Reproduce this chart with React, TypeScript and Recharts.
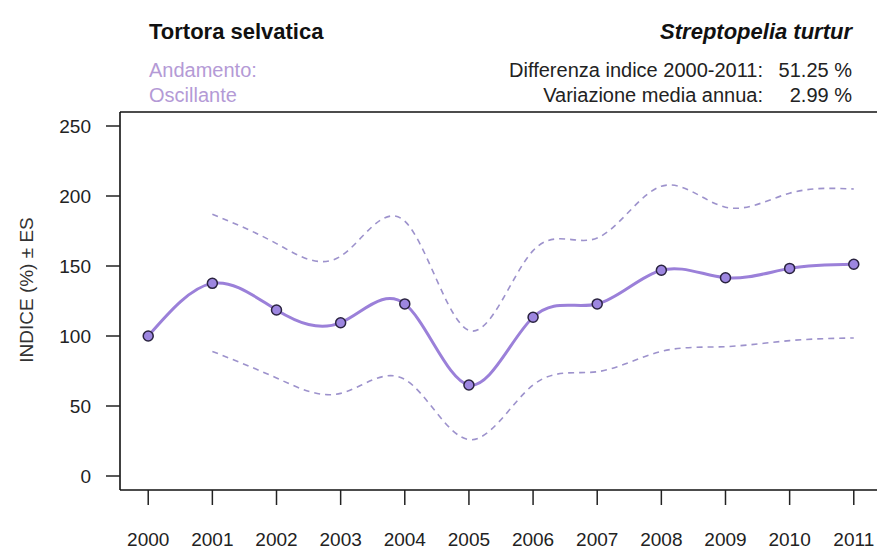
import React from 'react';
import { LineChart, Line, XAxis, YAxis, ReferenceLine } from 'recharts';

const years = [2000, 2001, 2002, 2003, 2004, 2005, 2006, 2007, 2008, 2009, 2010, 2011];
const indexValues = [100, 137.6, 118.6, 109.5, 122.9, 65, 113.4, 122.9, 147, 141.6, 148.3, 151.25];
const upperValues: (number | null)[] = [null, 187, 166, 157, 182, 104, 161, 170, 207, 192, 202, 205];
const lowerValues: (number | null)[] = [null, 89, 70, 59, 69, 26, 65, 74.5, 89, 92.4, 96.7, 98.6];
const yTicks = [0, 50, 100, 150, 200, 250];

const data = years.map((year, i) => ({
  year,
  idx: indexValues[i],
  upper: upperValues[i],
  lower: lowerValues[i],
}));

const FONT = 'Arial, "Liberation Sans", Helvetica, sans-serif';
const LINE_COLOR = '#9b80d9';
const DASH_COLOR = '#9d92cc';
const LABEL_COLOR = '#b49ad6';

export default function App() {
  return (
    <div style={{ position: 'absolute', left: 0, top: 0, width: 877, height: 551, overflow: 'hidden', background: '#fff' }}>
      <LineChart
        width={890}
        height={551}
        data={data}
        margin={{ top: 112, right: 8, bottom: 11, left: 60 }}
      >
        <XAxis
          dataKey="year"
          type="number"
          domain={[1999.56, 2011.44]}
          ticks={years}
          interval={0}
          height={50}
          axisLine={{ stroke: '#111', strokeWidth: 1.6 }}
          tickLine={{ stroke: '#222', strokeWidth: 1.5 }}
          tickSize={15}
          tickMargin={28}
          tick={{ fill: '#222', fontSize: 19, fontFamily: FONT }}
        />
        <YAxis
          type="number"
          domain={[-10, 260]}
          ticks={yTicks}
          interval={0}
          width={60}
          axisLine={{ stroke: '#111', strokeWidth: 1.6 }}
          tickLine={{ stroke: '#222', strokeWidth: 1.5 }}
          tickSize={14}
          tickMargin={15}
          tick={{ fill: '#222', fontSize: 19, fontFamily: FONT }}
        />
        <ReferenceLine y={260} stroke="#111" strokeWidth={1.6} />
        <Line
          dataKey="upper"
          type="natural"
          stroke={DASH_COLOR}
          strokeWidth={1.6}
          strokeDasharray="6 5"
          dot={false}
          activeDot={false}
          isAnimationActive={false}
        />
        <Line
          dataKey="lower"
          type="natural"
          stroke={DASH_COLOR}
          strokeWidth={1.6}
          strokeDasharray="6 5"
          dot={false}
          activeDot={false}
          isAnimationActive={false}
        />
        <Line
          dataKey="idx"
          type="natural"
          stroke={LINE_COLOR}
          strokeWidth={3}
          dot={{ r: 5, fill: '#9d86e0', stroke: '#2a2340', strokeWidth: 1.5 }}
          activeDot={false}
          isAnimationActive={false}
        />
      </LineChart>
      <svg
        width={877}
        height={551}
        style={{ position: 'absolute', left: 0, top: 0, pointerEvents: 'none' }}
        fontFamily={FONT}
      >
        <text x={149} y={39} fontSize={22} fontWeight="bold" fill="#111">Tortora selvatica</text>
        <text x={852} y={39} fontSize={22} fontWeight="bold" fontStyle="italic" fill="#111" textAnchor="end">Streptopelia turtur</text>
        <text x={149} y={77} fontSize={20} fill={LABEL_COLOR}>Andamento:</text>
        <text x={149} y={102} fontSize={20} fill={LABEL_COLOR}>Oscillante</text>
        <text x={763} y={77} fontSize={20} fill="#222" textAnchor="end">Differenza indice 2000-2011:</text>
        <text x={852} y={77} fontSize={20} fill="#222" textAnchor="end">51.25 %</text>
        <text x={763} y={102} fontSize={20} fill="#222" textAnchor="end">Variazione media annua:</text>
        <text x={852} y={102} fontSize={20} fill="#222" textAnchor="end">2.99 %</text>
        <text x={33} y={290} fontSize={19} fill="#333" textAnchor="middle" transform="rotate(-90, 33, 290)">INDICE (%) ± ES</text>
      </svg>
    </div>
  );
}
